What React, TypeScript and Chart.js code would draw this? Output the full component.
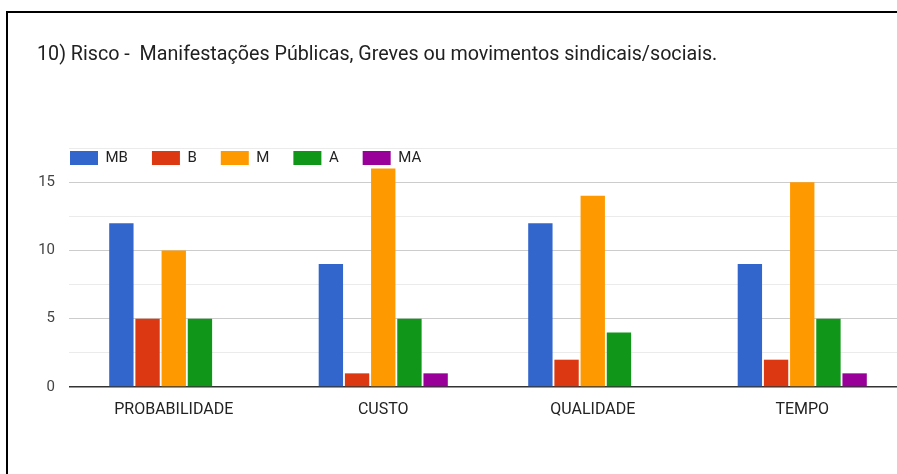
import React, { useEffect, useRef } from "react";
import { Chart, registerables } from "chart.js";

Chart.register(...registerables);

const TITLE = "10) Risco -  Manifestações Públicas, Greves ou movimentos sindicais/sociais.";
const categories = ["PROBABILIDADE", "CUSTO", "QUALIDADE", "TEMPO"];
const seriesNames = ["MB", "B", "M", "A", "MA"];
const valuesMB = [12, 9, 12, 9];
const valuesB = [5, 1, 2, 2];
const valuesM = [10, 16, 14, 15];
const valuesA = [5, 5, 4, 5];
const valuesMA = [0, 1, 0, 1];
const seriesColors = ["#3366cc", "#dc3912", "#ff9900", "#109618", "#990099"];
const yMax = 17.5;
const yStep = 2.5;

const CANVAS_W = 920;
const CANVAS_H = 474;

const legendShift = {
  id: "legendShift",
  afterLayout(chart: any) {
    const lg = chart.legend;
    if (!lg) return;
    const h = lg.bottom - lg.top;
    lg.top = 126.5;
    lg.bottom = lg.top + h;
    lg.left = 46;
  },
};

export default function App() {
  const ref = useRef<HTMLCanvasElement | null>(null);

  useEffect(() => {
    document.body.style.margin = "0";
    const canvas = ref.current;
    if (!canvas) return;
    const allValues = [valuesMB, valuesB, valuesM, valuesA, valuesMA];
    const chart = new Chart(canvas, {
      type: "bar",
      data: {
        labels: categories,
        datasets: seriesNames.map((name, i) => ({
          label: name,
          data: allValues[i],
          backgroundColor: seriesColors[i],
          borderWidth: 0,
          barPercentage: 0.93,
          categoryPercentage: 0.625,
        })),
      },
      options: {
        responsive: false,
        animation: false,
        devicePixelRatio: 1,
        layout: { padding: { top: 0, left: 37, right: 13, bottom: 57 } },
        plugins: {
          title: {
            display: true,
            text: TITLE,
            align: "start",
            color: "#212121",
            font: { family: "Roboto", size: 19.7, weight: "normal" },
            padding: { top: 43.2, bottom: 32.2 },
          },
          legend: {
            display: true,
            position: "top",
            align: "start",
            labels: {
              boxWidth: 28,
              boxHeight: 14,
              padding: 24,
              color: "#222222",
              font: { family: "Roboto", size: 15 },
            },
          },
          tooltip: { enabled: false },
        },
        scales: {
          x: {
            grid: { display: false },
            border: { display: false },
            ticks: {
              color: "#222222",
              font: { family: "Roboto", size: 16 },
              padding: 5,
              maxRotation: 0,
              autoSkip: false,
            },
            afterFit: (s: any) => {
              s.height = 30;
            },
          },
          y: {
            min: 0,
            max: yMax,
            border: { display: false },
            grid: {
              drawTicks: false,
              color: (ctx: any) => {
                const v = ctx.tick ? ctx.tick.value : 0;
                if (v === 0) return "#333333";
                if (v % 5 === 0) return "#cccccc";
                return "#ebebeb";
              },
              lineWidth: (ctx: any) => (ctx.tick && ctx.tick.value === 0 ? 1.5 : 1),
            },
            ticks: {
              stepSize: yStep,
              padding: 14,
              color: "#444444",
              font: { family: "Roboto", size: 15 },
              callback: (v: any) => (Number(v) % 5 === 0 ? String(v) : ""),
            },
            afterFit: (s: any) => {
              s.width = 32;
            },
          },
        },
      },
      plugins: [legendShift],
    });
    return () => chart.destroy();
  }, []);

  return (
    <div style={{ position: "relative", width: 897, height: 474, overflow: "hidden", background: "#fff" }}>
      <canvas ref={ref} width={CANVAS_W} height={CANVAS_H} style={{ position: "absolute", left: 0, top: 0 }} />
      <div
        style={{
          position: "absolute",
          left: 6,
          top: 11,
          width: 900,
          height: 470,
          borderTop: "2px solid #000",
          borderLeft: "2px solid #000",
          pointerEvents: "none",
        }}
      />
    </div>
  );
}
